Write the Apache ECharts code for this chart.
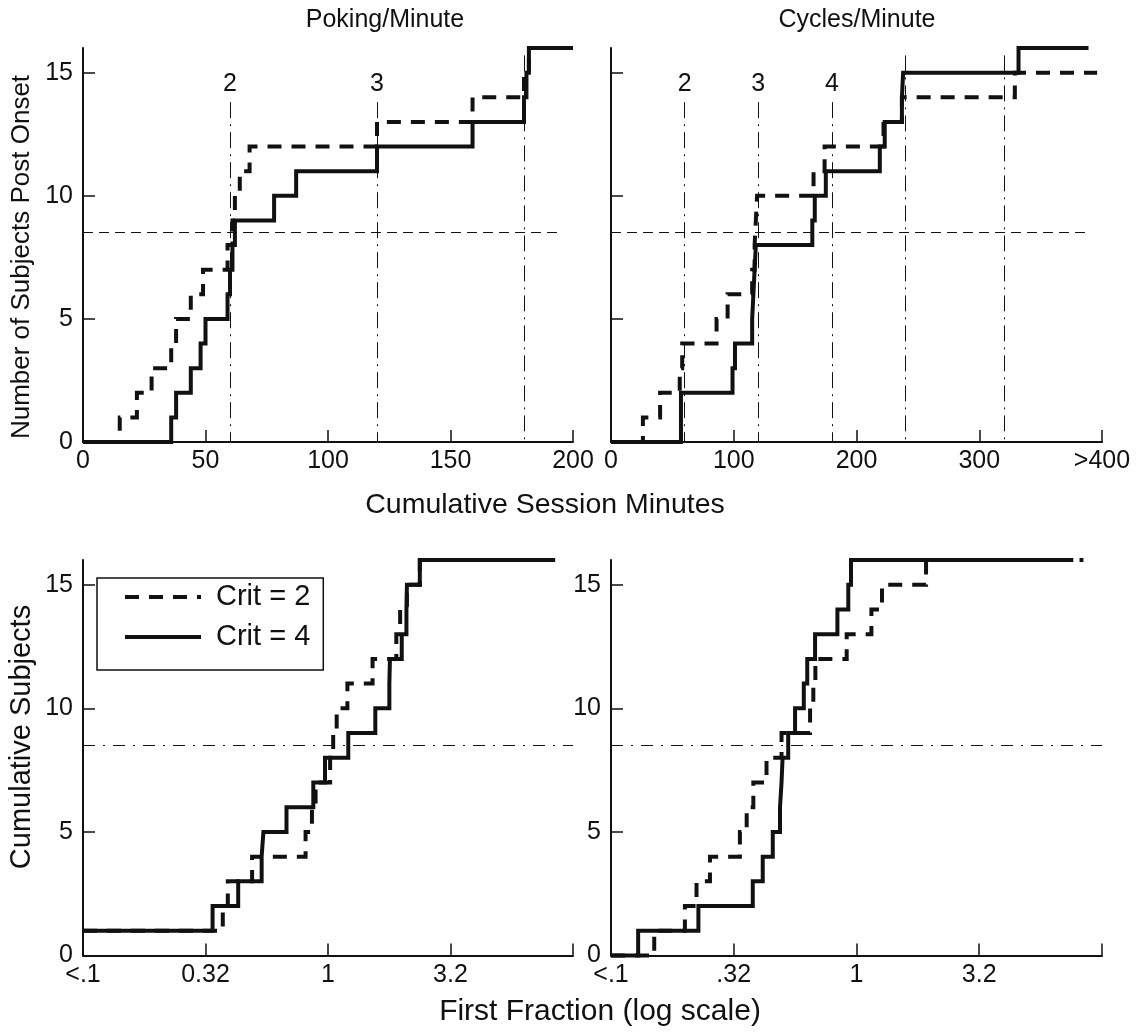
<!DOCTYPE html>
<html>
<head>
<meta charset="utf-8">
<title>Criterion onset</title>
<script src="https://cdn.jsdelivr.net/npm/echarts@6/dist/echarts.min.js"></script>
<style>
  html, body { margin: 0; padding: 0; background: #fff; }
  #chart { width: 1144px; height: 1033px; }
</style>
</head>
<body>
<div id="chart"></div>
<script>
// ---- Poking/Minute: cumulative session minutes to reach criterion ----
const pokeMinutesCrit2 = [0, 15, 22, 28, 36, 38, 44, 49, 59, 61, 62, 64, 68, 120, 159, 180, 182, 200];
const pokeCountCrit2   = [0, 1, 2, 3, 4, 5, 6, 7, 8, 9, 10, 11, 12, 13, 14, 15, 16, 16];
const pokeMinutesCrit4 = [0, 36, 38, 44, 48, 50, 59, 60, 61, 62, 78, 87, 120, 159, 180, 181, 182, 200];
const pokeCountCrit4   = [0, 1, 2, 3, 4, 5, 6, 7, 8, 9, 10, 11, 12, 13, 14, 15, 16, 16];

// ---- Cycles/Minute: cumulative session minutes to reach criterion ----
const cycMinutesCrit2 = [0, 26, 40, 56, 58, 86, 95, 115, 117, 118, 119, 165, 174, 222, 237, 329, 396];
const cycCountCrit2   = [0, 1, 2, 3, 4, 5, 6, 7, 8, 9, 10, 11, 12, 13, 14, 15, 15];
const cycMinutesCrit4 = [0, 57, 57, 99, 101, 115, 116, 117, 118, 164, 166, 175, 219, 223, 237, 238, 332, 389];
const cycCountCrit4   = [0, 1, 2, 3, 4, 5, 6, 7, 8, 9, 10, 11, 12, 13, 14, 15, 16, 16];

// ---- First fraction (log scale), poking ----
const pokeFracCrit2  = [0.1, 0.372, 0.39, 0.49, 0.81, 0.86, 0.89, 1.02, 1.05, 1.085, 1.2, 1.52, 1.9, 1.97, 2.1, 2.37, 8.45];
const pokeFracCount2 = [1, 2, 3, 4, 5, 6, 7, 8, 9, 10, 11, 12, 13, 14, 15, 16, 16];
const pokeFracCrit4  = [0.1, 0.338, 0.43, 0.536, 0.545, 0.677, 0.871, 0.972, 1.21, 1.56, 1.78, 1.79, 2.0, 2.09, 2.1, 2.37, 8.45];
const pokeFracCount4 = [1, 2, 3, 4, 5, 6, 7, 8, 9, 10, 11, 12, 13, 14, 15, 16, 16];

// ---- First fraction (log scale), cycles ----
const cycFracCrit2  = [0.1, 0.15, 0.2, 0.223, 0.253, 0.335, 0.357, 0.38, 0.43, 0.495, 0.647, 0.667, 0.68, 0.912, 1.15, 1.27, 1.92, 8.4];
const cycFracCount2 = [0, 1, 2, 3, 4, 5, 6, 7, 8, 9, 10, 11, 12, 13, 14, 15, 16, 16];
const cycFracCrit4  = [0.1, 0.129, 0.227, 0.378, 0.415, 0.456, 0.488, 0.495, 0.5, 0.527, 0.562, 0.61, 0.63, 0.678, 0.836, 0.926, 0.95, 7.64];
const cycFracCount4 = [0, 1, 2, 3, 4, 5, 6, 7, 8, 9, 10, 11, 12, 13, 14, 15, 16, 16];

// ---- session markers (minutes) and their labels ----
const pokeSessionMinutes = [60, 120, 180];
const pokeSessionLabels  = ['2', '3', ''];
const cycSessionMinutes  = [60, 120, 180, 240, 320];
const cycSessionLabels   = ['2', '3', '4', '', ''];

// half the subjects
const halfLevel = 8.5;

// ---- tick labels ----
const countTicks = [0, 5, 10, 15];
const pokeMinuteTicks = [0, 50, 100, 150, 200];
const cycMinuteTicks = [0, 100, 200, 300, 400];
const cycMinuteLabels = ['0', '100', '200', '300', '>400'];
const fracTicks = [0.1, 0.3162, 1, 3.162, 10];
const pokeFracLabels = ['<.1', '0.32', '1', '3.2', ''];
const cycFracLabels = ['<.1', '.32', '1', '3.2', ''];

const FONT = '"Liberation Sans", Arial, Helvetica, sans-serif';
const INK = '#111';

function pairs(xs, ys) { return xs.map((x, i) => [x, ys[i]]); }

// pick the label whose tick value is closest to v
function labelFrom(values, labels) {
  return function (v) {
    let best = 0, bestDist = Infinity;
    values.forEach((t, i) => {
      const d = Math.abs(t - v) / Math.max(Math.abs(t), 1e-6);
      if (d < bestDist) { bestDist = d; best = i; }
    });
    return labels[best];
  };
}

function xAxisFor(grid, type, min, max, ticks, labels) {
  return {
    type: type, gridIndex: grid, min: min, max: max,
    logBase: 10,
    axisLine: { show: true, lineStyle: { color: INK, width: 2 } },
    axisTick: { show: true, inside: true, length: 12, lineStyle: { color: INK, width: 1.5 }, customValues: ticks },
    axisLabel: {
      show: true, color: INK, fontFamily: FONT, fontSize: 25, margin: 7,
      customValues: ticks, formatter: labelFrom(ticks, labels)
    },
    splitLine: { show: false }
  };
}

function yAxisFor(grid, showLabels) {
  return {
    type: 'value', gridIndex: grid, min: 0, max: 16,
    axisLine: { show: true, lineStyle: { color: INK, width: 2 } },
    axisTick: { show: true, inside: true, length: 12, lineStyle: { color: INK, width: 1.5 }, customValues: countTicks },
    axisLabel: { show: showLabels, color: INK, fontFamily: FONT, fontSize: 25, margin: 10, customValues: countTicks },
    splitLine: { show: false }
  };
}

function stepSeries(name, xs, ys, idx, dashed, markLine) {
  const s = {
    name: name, type: 'line', step: 'end',
    xAxisIndex: idx, yAxisIndex: idx,
    data: pairs(xs, ys),
    symbol: 'none', showSymbol: false, clip: false, animation: false, silent: true,
    lineStyle: { color: INK, width: 4, type: dashed ? [14, 10] : 'solid', cap: 'butt', join: 'miter' },
    itemStyle: { color: INK },
    z: dashed ? 3 : 4
  };
  if (markLine) s.markLine = markLine;
  return s;
}

// vertical session markers plus the horizontal half-way line
function referenceLines(sessions, labels, halfFrom, halfTo, halfType) {
  const data = sessions.map((m, i) => {
    const top = labels[i] ? 13.8 : 15.7;
    return [
      { coord: [m, top], label: { show: !!labels[i], formatter: labels[i] } },
      { coord: [m, 0] }
    ];
  });
  data.push([
    { coord: [halfFrom, halfLevel], label: { show: false }, lineStyle: { type: halfType } },
    { coord: [halfTo, halfLevel] }
  ]);
  return {
    silent: true, animation: false, symbol: ['none', 'none'],
    lineStyle: { color: INK, width: 1, type: [16, 6, 2, 6] },
    label: { show: true, position: 'start', distance: 6, color: INK, fontFamily: FONT, fontSize: 25 },
    emphasis: { disabled: true },
    data: data
  };
}

function halfLine(from, to) {
  return {
    silent: true, animation: false, symbol: ['none', 'none'],
    lineStyle: { color: INK, width: 1, type: [12, 8, 2, 8] },
    label: { show: false },
    emphasis: { disabled: true },
    data: [[{ coord: [from, halfLevel] }, { coord: [to, halfLevel] }]]
  };
}

function textAt(x, y, text, size, rotation) {
  return {
    type: 'text', x: x, y: y, rotation: rotation || 0,
    style: {
      text: text, font: size + 'px ' + FONT, fill: INK,
      align: 'center', verticalAlign: 'middle', textAlign: 'center', textVerticalAlign: 'middle'
    }
  };
}

const chart = echarts.init(document.getElementById('chart'), null, { renderer: 'canvas' });

chart.setOption({
  backgroundColor: '#fff',
  animation: false,
  textStyle: { fontFamily: FONT, color: INK },
  grid: [
    { left: 83, top: 48, width: 490, height: 394 },
    { left: 611, top: 48, width: 491, height: 394 },
    { left: 83, top: 560, width: 490, height: 395.5 },
    { left: 611, top: 560, width: 491, height: 395.5 }
  ],
  xAxis: [
    xAxisFor(0, 'value', 0, 200, pokeMinuteTicks, pokeMinuteTicks.map(String)),
    xAxisFor(1, 'value', 0, 400, cycMinuteTicks, cycMinuteLabels),
    xAxisFor(2, 'log', 0.1, 10, fracTicks, pokeFracLabels),
    xAxisFor(3, 'log', 0.1, 10, fracTicks, cycFracLabels)
  ],
  yAxis: [yAxisFor(0, true), yAxisFor(1, false), yAxisFor(2, true), yAxisFor(3, true)],
  legend: {
    show: true, left: 97, top: 578, orient: 'vertical',
    data: ['Crit = 2', 'Crit = 4'],
    selectedMode: false,
    itemWidth: 76, itemHeight: 20, itemGap: 10,
    padding: [4, 13, 18, 26],
    borderColor: INK, borderWidth: 1.5, backgroundColor: '#fff',
    itemStyle: { opacity: 0, borderWidth: 0 },
    lineStyle: { width: 4, color: INK },
    textStyle: { color: INK, fontFamily: FONT, fontSize: 29, lineHeight: 30, padding: [0, 0, 0, 10] }
  },
  series: [
    stepSeries('Crit = 4', pokeMinutesCrit4, pokeCountCrit4, 0, false,
      referenceLines(pokeSessionMinutes, pokeSessionLabels, 0, 195, [10, 6])),
    stepSeries('Crit = 2', pokeMinutesCrit2, pokeCountCrit2, 0, true),
    stepSeries('Crit = 4', cycMinutesCrit4, cycCountCrit4, 1, false,
      referenceLines(cycSessionMinutes, cycSessionLabels, 0, 389, [10, 6])),
    stepSeries('Crit = 2', cycMinutesCrit2, cycCountCrit2, 1, true),
    stepSeries('Crit = 4', pokeFracCrit4, pokeFracCount4, 2, false, halfLine(0.1, 10)),
    stepSeries('Crit = 2', pokeFracCrit2, pokeFracCount2, 2, true),
    stepSeries('Crit = 4', cycFracCrit4, cycFracCount4, 3, false, halfLine(0.1, 10)),
    stepSeries('Crit = 2', cycFracCrit2, cycFracCount2, 3, true)
  ],
  graphic: [
    textAt(385, 20, 'Poking/Minute', 25),
    textAt(857, 20, 'Cycles/Minute', 25),
    textAt(545, 505, 'Cumulative Session Minutes', 28.5),
    textAt(600, 1012, 'First Fraction (log scale)', 30),
    textAt(22, 257, 'Number of Subjects Post Onset', 26, Math.PI / 2),
    textAt(22, 737, 'Cumulative Subjects', 29, Math.PI / 2)
  ]
});
</script>
</body>
</html>
